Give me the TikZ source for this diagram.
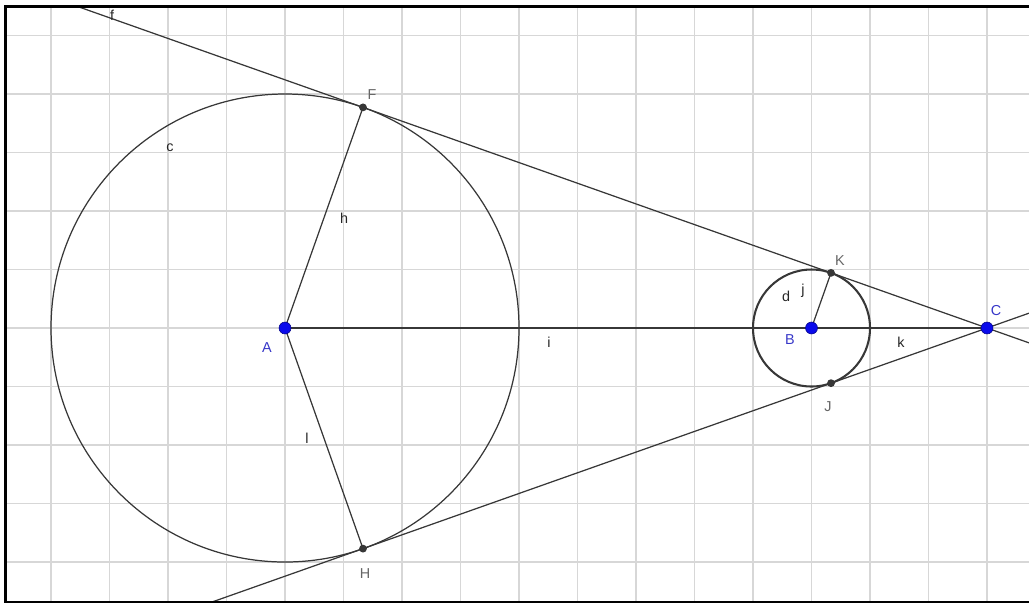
\documentclass[tikz,border=0pt]{standalone}
\usepackage{fontspec}
\setsansfont{Liberation Sans}
\usetikzlibrary{calc}
\definecolor{ptblue}{RGB}{10,10,235}
\definecolor{lblblue}{RGB}{55,55,200}
\definecolor{gridgray}{RGB}{215,215,215}
\definecolor{ink}{RGB}{55,55,55}
\tikzset{
  curve/.style={ink,line width=0.6pt},
  bluept/.style={circle,fill=ptblue,draw=ptblue!60!black,line width=0.3pt,inner sep=0pt,minimum size=5.8pt},
  graypt/.style={circle,fill=ink,inner sep=0pt,minimum size=3.8pt},
  lbl/.style={font=\sffamily\fontsize{7}{8}\selectfont,inner sep=0pt,text=black!85},
  ptlbl/.style={lbl,text=black!60},
  bluelbl/.style={lbl,text=lblblue},
}
\begin{document}
\begin{tikzpicture}[x=1cm,y=1cm]
\useasboundingbox (-4.872,-4.718) rectangle (12.718,5.607);
% ---- Gitter ----
\draw[gridgray,line width=0.7pt,step=1] (-4.778,-4.684) grid (12.718,5.496);
% ---- Punkte ----
\coordinate (A) at (0,0);
\coordinate (B) at (9,0);
\coordinate (C) at (12,0);
\coordinate (F) at (1.3333,3.7712);
\coordinate (H) at (1.3333,-3.7712);
\coordinate (K) at (9.3333,0.9428);
\coordinate (J) at (9.3333,-0.9428);
% ---- Kreise c, d ----
\draw[curve] (A) circle[radius=4];
\draw[ink,line width=1pt] (B) circle[radius=1];
% ---- Tangenten f, g ----
\begin{scope}
\clip (-4.778,-4.684) rectangle (12.718,5.496);
\draw[curve] ($(C)!1.6!(F)$) -- ($(C)!-0.5!(F)$);
\draw[curve] ($(C)!1.6!(H)$) -- ($(C)!-0.5!(H)$);
\end{scope}
% ---- Strecken ----
\draw[curve] (A) -- (F);
\draw[curve] (A) -- (H);
\draw[curve] (B) -- (K);
\draw[ink,line width=0.8pt] (A) -- (B) -- (C);
% ---- Rahmen ----
\draw[line width=1pt] (12.718,5.496) -- (-4.778,5.496) -- (-4.778,-4.684) -- (12.718,-4.684);
\node[graypt] (pF) at (F) {};
\node[graypt] (pH) at (H) {};
\node[graypt] (pK) at (K) {};
\node[graypt] (pJ) at (J) {};
\node[bluept] (pA) at (A) {};
\node[bluept] (pB) at (B) {};
\node[bluept] (pC) at (C) {};
% ---- Beschriftungen ----
\node[lbl] (lf) at (-2.957,5.350) {f};
\node[lbl] (lc) at (-1.966,3.077) {c};
\node[lbl] (lh) at (1.009,1.880) {h};
\node[lbl] (li) at (4.513,-0.239) {i};
\node[lbl] (ll) at (0.376,-1.880) {l};
\node[lbl] (lj) at (8.855,0.632) {j};
\node[lbl] (ld) at (8.564,0.547) {d};
\node[lbl] (lk) at (10.530,-0.239) {k};
\node[ptlbl] (lF) at (1.487,3.983) {F};
\node[ptlbl] (lH) at (1.368,-4.205) {H};
\node[ptlbl] (lK) at (9.487,1.145) {K};
\node[ptlbl] (lJ) at (9.282,-1.350) {J};
\node[bluelbl] (lA) at (-0.308,-0.342) {A};
\node[bluelbl] (lB) at (8.632,-0.205) {B};
\node[bluelbl] (lC) at (12.154,0.291) {C};
\end{tikzpicture}
\end{document}
